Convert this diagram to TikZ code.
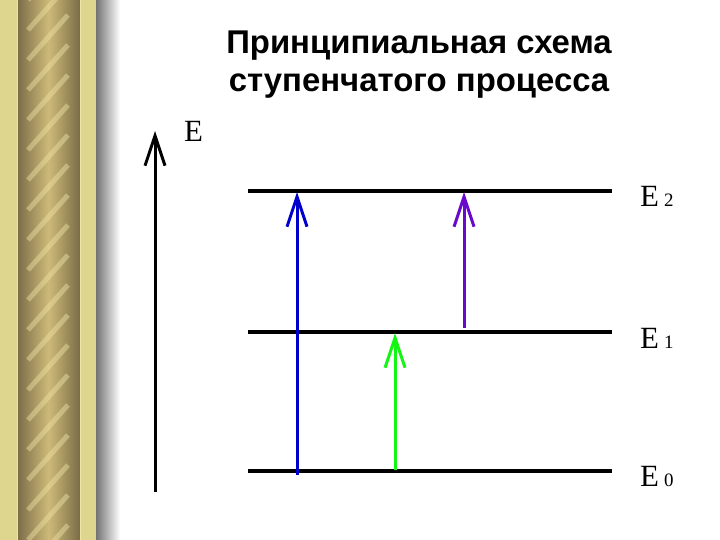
\documentclass[tikz,border=0pt]{standalone}
\usepackage{fontspec}
\setmainfont{Liberation Serif}
\newfontfamily\titlefont{Liberation Sans}
\usetikzlibrary{arrows.meta}
\usepackage{xcolor}
\definecolor{goldlight}{RGB}{222,213,142}
\definecolor{goldpale}{RGB}{238,228,165}
\definecolor{golddark}{RGB}{122,108,72}
\definecolor{goldmid}{RGB}{205,186,120}
\definecolor{jumpblue}{RGB}{0,0,205}
\definecolor{jumppurple}{RGB}{104,10,206}
\definecolor{jumpgreen}{RGB}{20,245,20}

\tikzset{
  level/.style={line width=4.5bp},
  jump/.style={line width=3bp,-{Straight Barb[length=30bp,width=20bp]}},
  elabel/.style={anchor=base west,inner sep=0pt,font=\fontsize{31}{31}\selectfont}
}

\begin{document}
\begin{tikzpicture}[x=1bp,y=-1bp]
\useasboundingbox (0,0) rectangle (720,540);
\fill[white] (0,0) rectangle (720,540);
\fill[goldlight] (0,0) rectangle (96,540);
\shade[left color=golddark,right color=golddark,middle color=goldmid] (17,0) rectangle (80,540);
\begin{scope}
\clip (26,0) rectangle (70,540);
\foreach \y in {0,30,...,600}
  \draw[goldpale,line width=5bp,opacity=0.45] (28,\y) -- (68,\y-45);
\end{scope}
\draw[goldpale,line width=1bp] (17,0) -- (17,540);
\draw[goldpale,line width=1bp] (80,0) -- (80,540);
\shade[left color=black!55,right color=white] (96,0) rectangle (120,540);

\node[font=\titlefont\bfseries\fontsize{33}{38}\selectfont,align=center] (title) at (419,65)
  {Принципиальная схема\\ступенчатого процесса};

\coordinate (axbot) at (155,492);
\coordinate (axtop) at (155,131);
\draw[line width=3bp,-{Straight Barb[length=30bp,width=20bp]}] (axbot) -- (axtop);
\node[elabel] (elab) at (184,142) {E};

\coordinate (l2a) at (248,191);
\coordinate (l2b) at (612,191);
\coordinate (l1a) at (248,332);
\coordinate (l1b) at (612,332);
\coordinate (l0a) at (248,471);
\coordinate (l0b) at (612,471);
\draw[level] (l2a) -- (l2b);
\draw[level] (l1a) -- (l1b);
\draw[level] (l0a) -- (l0b);
\node[elabel] (e2) at (640,207) {E\,{\fontsize{19}{19}\selectfont 2}};
\node[elabel] (e1) at (640,348) {E\,{\fontsize{19}{19}\selectfont 1}};
\node[elabel] (e0) at (640,486) {E\,{\fontsize{19}{19}\selectfont 0}};

\coordinate (bstart) at (297,475);
\coordinate (bend) at (297,192);
\coordinate (gstart) at (395,470);
\coordinate (gend) at (395,333);
\coordinate (pstart) at (464,328);
\coordinate (pend) at (464,192);
\draw[jump,jumpblue] (bstart) -- (bend);
\draw[jump,jumpgreen] (gstart) -- (gend);
\draw[jump,jumppurple] (pstart) -- (pend);
\end{tikzpicture}
\end{document}
